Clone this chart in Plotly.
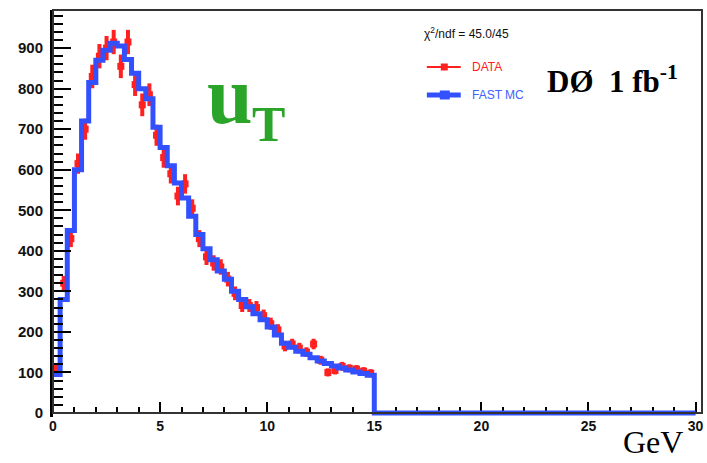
import numpy as np
import plotly.graph_objects as go

# ---------------- data ----------------
x_min, x_max, bin_width = 0.0, 30.0, 1.0 / 3.0
# fast MC prediction, 1/3 GeV bins from 0 to 15 GeV (zero above)
mc_counts = [95, 280, 450, 600, 720, 815, 870, 895, 912, 905,
             872, 838, 800, 775, 705, 655, 610, 567, 530, 485,
             440, 405, 378, 350, 330, 300, 280, 262, 245, 230,
             212, 192, 172, 162, 152, 145, 136, 128, 122, 116,
             111, 106, 101, 97, 93]
mc_zero_tail = [0] * 45
# data
data_counts = [110, 320, 430, 615, 700, 830, 880, 900, 915, 855,
               915, 810, 760, 785, 685, 630, 590, 535, 565, 505,
               430, 385, 370, 360, 330, 295, 265, 265, 260, 240,
               220, 205, 165, 170, 160, 150, 170, 130, 100, 105,
               115, 110, 108, 103, 98]
data_err = [10, 18, 21, 25, 26, 29, 30, 30, 30, 29,
            30, 28, 28, 28, 26, 25, 24, 23, 24, 22,
            21, 20, 19, 19, 18, 17, 16, 16, 16, 15,
            15, 14, 13, 13, 13, 12, 13, 11, 10, 10,
            11, 10, 10, 10, 10]
x_ticks = [0, 5, 10, 15, 20, 25, 30]
y_ticks = [0, 100, 200, 300, 400, 500, 600, 700, 800, 900]

chi2_label = "χ<sup>2</sup>/ndf = 45.0/45"
data_label = "DATA"
mc_label = "FAST MC"
var_label = "u"
var_sub = "T"
expt_label = "DØ  1 fb<sup>-1</sup>"
unit_label = "GeV"

# ---------------- derived ----------------
mc_full = mc_counts + mc_zero_tail
n_all = len(mc_full)
edges = x_min + bin_width * np.arange(n_all + 1)
mc_y = mc_full + [mc_full[-1]]
centers = x_min + bin_width * (np.arange(len(data_counts)) + 0.5)

BLUE = "#3350ff"
RED = "#ff2020"

W, H = 707, 463
ML, MR, MT, MB = 53, 3, 10, 46
YR = [-10, 994]
XR = [0, 30.3]
plot_w = W - ML - MR
plot_h = H - MT - MB
zero_pos = (0 - YR[0]) / (YR[1] - YR[0])


def px(xp):
    return (xp - ML) / plot_w


def py(yp):
    return (H - MB - yp) / plot_h


fig = go.Figure()

fig.add_trace(go.Scatter(
    x=centers, y=data_counts, mode="markers",
    marker=dict(symbol="square", size=7, color=RED),
    error_y=dict(type="data", array=data_err, visible=True,
                 color=RED, thickness=4, width=0),
    showlegend=False, cliponaxis=False))

fig.add_trace(go.Scatter(
    x=edges, y=mc_y, mode="lines", line_shape="hv",
    line=dict(color=BLUE, width=5),
    showlegend=False))

tickfont = dict(family="Liberation Sans", size=15, color="#111", weight="bold")

fig.update_layout(
    width=W, height=H,
    margin=dict(l=ML, r=MR, t=MT, b=MB),
    plot_bgcolor="white", paper_bgcolor="white",
    xaxis=dict(range=XR, anchor="free", position=zero_pos,
               tickvals=x_ticks, ticks="inside", ticklen=10, tickwidth=2,
               tickcolor="black", showgrid=False, zeroline=False,
               showline=True, linecolor="black", linewidth=2,
               layer="below traces", tickfont=dict(tickfont, size=14),
               minor=dict(dtick=1, ticks="inside", ticklen=5, tickwidth=2,
                          tickcolor="black", showgrid=False)),
    yaxis=dict(range=YR, tickvals=y_ticks, ticks="inside", ticklen=18,
               tickwidth=2, tickcolor="black", showgrid=False,
               zeroline=False, showline=True, linecolor="black",
               linewidth=3, tickfont=tickfont, ticklabelstandoff=4,
               minor=dict(dtick=20, tick0=0, ticks="inside", ticklen=10,
                          tickwidth=2, tickcolor="black", showgrid=False)),
    showlegend=False,
)

# frame (top and right)
fig.add_shape(type="rect", xref="paper", yref="paper",
              x0=0, x1=1, y0=zero_pos, y1=1,
              line=dict(color="#333", width=2), layer="above")

# legend, drawn by hand
fig.add_shape(type="line", xref="paper", yref="paper",
              x0=px(428), x1=px(462), y0=py(67), y1=py(67),
              line=dict(color=RED, width=2))
fig.add_shape(type="rect", xref="paper", yref="paper",
              x0=px(442), x1=px(449), y0=py(70.5), y1=py(63.5),
              fillcolor=RED, line=dict(width=0))
fig.add_shape(type="line", xref="paper", yref="paper",
              x0=px(428), x1=px(462), y0=py(95), y1=py(95),
              line=dict(color=BLUE, width=5))
fig.add_shape(type="rect", xref="paper", yref="paper",
              x0=px(441), x1=px(451), y0=py(99.5), y1=py(90.5),
              fillcolor=BLUE, line=dict(width=0))

ann = []
ann.append(dict(text=chi2_label, x=px(423), y=py(33), xanchor="left",
                yanchor="middle",
                font=dict(family="Liberation Sans", size=12, color="#111")))
ann.append(dict(text=data_label, x=px(471), y=py(67), xanchor="left",
                yanchor="middle",
                font=dict(family="Liberation Sans", size=12, color=RED)))
ann.append(dict(text=mc_label, x=px(471), y=py(95), xanchor="left",
                yanchor="middle",
                font=dict(family="Liberation Sans", size=12, color="#4060ff")))
ann.append(dict(text=expt_label, x=px(614), y=py(79), xanchor="center",
                yanchor="middle",
                font=dict(family="Liberation Serif", size=31, color="black",
                          weight="bold")))
ann.append(dict(text=var_label, x=px(231), y=py(95), xanchor="center",
                yanchor="middle",
                font=dict(family="Liberation Serif", size=82, color="#2aa52a",
                          weight="bold")))
ann.append(dict(text=var_sub, x=px(269), y=py(124), xanchor="center",
                yanchor="middle",
                font=dict(family="Liberation Serif", size=50, color="#2aa52a",
                          weight="bold")))
ann.append(dict(text=unit_label, x=px(655), y=py(462), xanchor="center",
                yanchor="bottom",
                font=dict(family="Liberation Serif", size=32, color="black")))
for a in ann:
    a.update(xref="paper", yref="paper", showarrow=False)
fig.update_layout(annotations=ann)

fig.write_html("out.html")
